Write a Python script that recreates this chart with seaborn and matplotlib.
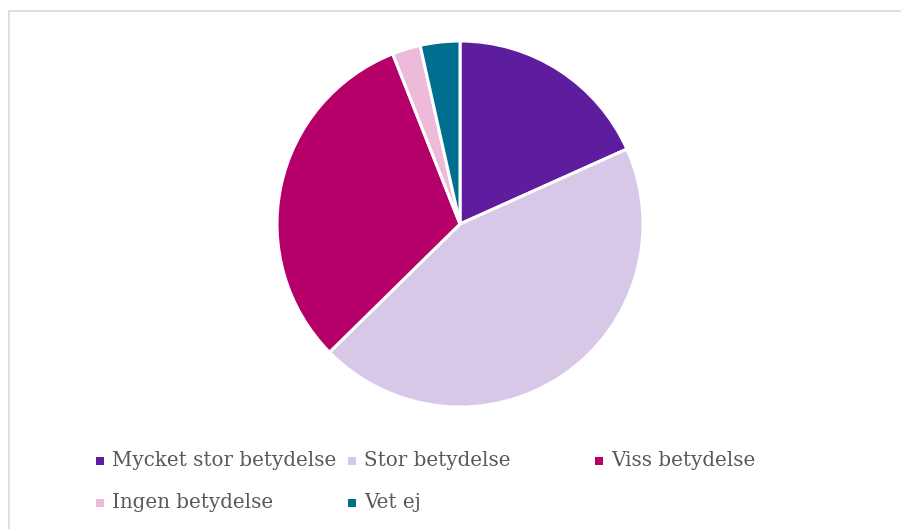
import matplotlib
matplotlib.use("Agg")
import matplotlib.pyplot as plt
import seaborn as sns
from matplotlib.patches import Rectangle
from matplotlib.lines import Line2D

categories = ["Mycket stor betydelse", "Stor betydelse", "Viss betydelse",
              "Ingen betydelse", "Vet ej"]
values = [18.3, 44.4, 31.4, 2.5, 3.5]
colors = ["#5E1D9E", "#D8C8E7", "#B40068", "#EDBBD9", "#006E8E"]

sns.set_theme(style="white")
plt.rcParams["font.family"] = ["DejaVu Serif"]

W, H = 901, 529
fig = plt.figure(figsize=(W / 100, H / 100), dpi=100)
fig.patch.set_facecolor("white")

cx, cy, r = 460, 224, 183
ax = fig.add_axes([(cx - r) / W, (H - cy - r) / H, 2 * r / W, 2 * r / H])
ax.pie(values, colors=sns.color_palette(colors), startangle=90, counterclock=False,
       wedgeprops=dict(edgecolor="white", linewidth=2.2), radius=1.0)
ax.set_xlim(-1.0, 1.0)
ax.set_ylim(-1.0, 1.0)
ax.set_aspect("equal")
ax.axis("off")

# frame (left and top edges visible)
fig.add_artist(Line2D([8.5 / W, 8.5 / W], [0, 1 - 10.5 / H], transform=fig.transFigure,
                      color="#D9D9D9", lw=1.2))
fig.add_artist(Line2D([8.5 / W, 1], [1 - 10.5 / H, 1 - 10.5 / H], transform=fig.transFigure,
                      color="#D9D9D9", lw=1.2))

# legend, Excel-like fixed column layout
pos = [(100, 461), (352, 461), (599, 461), (100, 503), (352, 503)]
for (mx, my), lab, col in zip(pos, categories, colors):
    s = 8
    fig.add_artist(Rectangle(((mx - s / 2) / W, (H - my - s / 2) / H), s / W, s / H,
                             transform=fig.transFigure, facecolor=col, edgecolor="none"))
    fig.text((mx + 12) / W, (H - my) / H, lab, fontsize=14.3, color="#595959",
             va="center", ha="left", family=["DejaVu Serif"])

fig.savefig("out.png", dpi=100, facecolor="white")
